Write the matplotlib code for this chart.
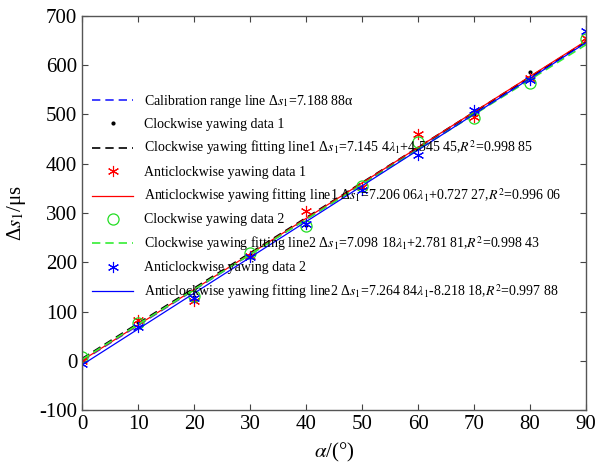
import matplotlib
matplotlib.use("Agg")
import matplotlib.pyplot as plt
import numpy as np

plt.rcParams['font.family'] = ['Liberation Serif', 'DejaVu Serif']
plt.rcParams['mathtext.fontset'] = 'stix'
plt.rcParams['axes.unicode_minus'] = False

alpha = [0, 10, 20, 30, 40, 50, 60, 70, 80, 90]
cw1 = [3, 78, 130, 214, 276, 352, 431, 500, 586, 652]
acw1 = [0, 83, 122, 212, 303, 352, 460, 494, 573, 655]
cw2 = [8, 77, 131, 219, 274, 354, 443, 493, 563, 653]
acw2 = [-7, 69, 128, 211, 278, 346, 417, 509, 570, 669]

calib_k = 7.18888
fit_cw1 = (7.1454, 4.54545)
fit_acw1 = (7.20606, 0.72727)
fit_cw2 = (7.09818, 2.78181)
fit_acw2 = (7.26484, -8.21818)

labels = [
    r'Calibration range line Δ$s_1$=7.188 88α',
    r'Clockwise yawing data 1',
    r'Clockwise yawing fitting line1 Δ$s_1$=7.145 4$\lambda_1$+4.545 45,$R^2$=0.998 85',
    r'Anticlockwise yawing data 1',
    r'Anticlockwise yawing fitting line1 Δ$s_1$=7.206 06$\lambda_1$+0.727 27,$R^2$=0.996 06',
    r'Clockwise yawing data 2',
    r'Clockwise yawing fitting line2 Δ$s_1$=7.098 18$\lambda_1$+2.781 81,$R^2$=0.998 43',
    r'Anticlockwise yawing data 2',
    r'Anticlockwise yawing fitting line2 Δ$s_1$=7.264 84$\lambda_1$-8.218 18,$R^2$=0.997 88',
]

fig = plt.figure(figsize=(6.08, 4.66), dpi=100)
ax = fig.add_axes([0.135, 0.12, 0.829, 0.846])

ast = (6, 2, 0)
a = np.array(alpha, dtype=float)
ax.plot(a, calib_k * a, color='#2020ff', ls=(0, (5, 3)), lw=1.2, label=labels[0])
ax.plot(a, cw1, ls='none', marker='.', color='black', ms=4, label=labels[1])
ax.plot(a, fit_cw1[0] * a + fit_cw1[1], color='black', ls=(0, (5, 3)), lw=1.2, label=labels[2])
ax.plot(a, acw1, ls='none', marker=ast, color='red', ms=8, mew=0.8, label=labels[3])
ax.plot(a, fit_acw1[0] * a + fit_acw1[1], color='red', lw=0.9, label=labels[4])
ax.plot(a, cw2, ls='none', marker='o', color='#22dd22', mfc='none', ms=8, mew=0.9, label=labels[5])
ax.plot(a, fit_cw2[0] * a + fit_cw2[1], color='#33ee33', ls=(0, (5, 3)), lw=1.2, label=labels[6])
ax.plot(a, acw2, ls='none', marker=ast, color='blue', ms=8, mew=0.8, label=labels[7])
ax.plot(a, fit_acw2[0] * a + fit_acw2[1], color='blue', lw=0.9, label=labels[8])

ax.set_xlim(0, 90)
ax.set_ylim(-100, 700)
ax.set_xticks(range(0, 91, 10))
ax.set_yticks(range(-100, 701, 100))
ax.tick_params(direction='in', top=True, right=True, labelsize=15, length=4, color='#444444')
for s in ax.spines.values():
    s.set_color('#555555')
    s.set_linewidth(1.0)

ax.set_xlabel(r'$\alpha$/(°)', fontsize=15, labelpad=5)
ax.set_ylabel(r'Δ$s_1$/μs', fontsize=15)
ax.yaxis.set_label_coords(-0.108, 0.5)

leg = ax.legend(loc='upper left', bbox_to_anchor=(0.0, 0.83), frameon=False,
                fontsize=10, handlelength=3.0, handletextpad=0.75, labelspacing=0.58,
                borderaxespad=0.3)

fig.savefig('out.png', dpi=100)
